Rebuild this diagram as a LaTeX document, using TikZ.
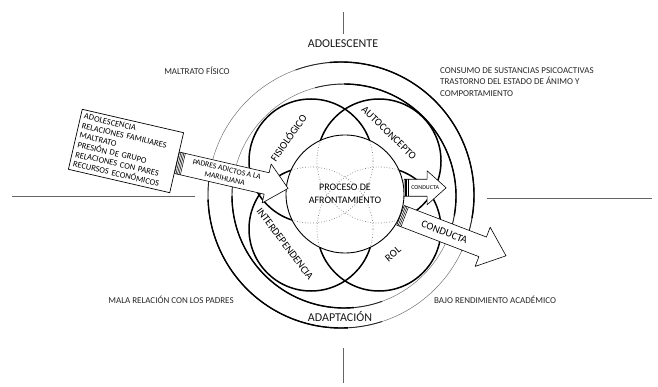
\documentclass[tikz,border=0pt]{standalone}
\usepackage{fontspec}
\setmainfont{Carlito}
\usetikzlibrary{calc}
\begin{document}
\begin{tikzpicture}[x=1pt,y=-1pt,line join=round,
  sm/.style={font=\fontsize{9}{11.5}\selectfont, text=black!85, inner sep=0pt},
  bigl/.style={font=\fontsize{12}{14}\selectfont, text=black!90, inner sep=0pt},
  plbl/.style={font=\fontsize{10.5}{12}\selectfont, inner sep=0pt},
  petal/.style={line width=1.5pt},
  dotp/.style={dotted, line width=0.7pt, black!50},
  ringthin/.style={line width=0.5pt, black!55},
  ringmid/.style={line width=0.9pt, black!85},
  ringthick/.style={line width=1.4pt},
  arrowshape/.style={draw, fill=white, line width=0.6pt},
  frameline/.style={line width=0.8pt, black!60}]
\useasboundingbox (0,0) rectangle (658,387);

% frame lines
\coordinate (t1) at (343,12); \coordinate (t2) at (343,34);
\coordinate (b1) at (343,348); \coordinate (b2) at (343,383);
\coordinate (l1) at (12,196.5); \coordinate (l2) at (195,196.5);
\coordinate (r1) at (487,198); \coordinate (r2) at (652,198);
\draw[frameline] (t1) -- (t2);
\draw[frameline] (b1) -- (b2);
\draw[frameline] (l1) -- (l2);
\draw[frameline] (r1) -- (r2);

% outer ring
\coordinate (O) at (341,195);
\draw[ringthin] (O) circle[radius=133pt];
\draw[ringmid] ($(O)+(-25:133pt)$) arc[start angle=-25, end angle=110, radius=133pt];
\draw[ringthick] ($(O)+(-10:133pt)$) arc[start angle=-10, end angle=95, radius=133pt];
\draw[ringmid] ($(O)+(168:133pt)$) arc[start angle=168, end angle=288, radius=133pt];
\draw[ringthick] ($(O)+(182:133pt)$) arc[start angle=182, end angle=273, radius=133pt];

% second ring
\coordinate (O2) at (344,196);
\draw[ringthin] (O2) circle[radius=112pt];
\draw[ringmid] ($(O2)+(-25:112pt)$) arc[start angle=-25, end angle=105, radius=112pt];
\draw[ringthick] ($(O2)+(-10:112pt)$) arc[start angle=-10, end angle=90, radius=112pt];
\draw[ringmid] ($(O2)+(165:112pt)$) arc[start angle=165, end angle=290, radius=112pt];
\draw[ringthick] ($(O2)+(180:112pt)$) arc[start angle=180, end angle=275, radius=112pt];

% petals
\coordinate (F) at (311,161);
\coordinate (A) at (379,161);
\coordinate (I) at (311,229);
\coordinate (R) at (379,229);
\foreach \c in {F,A,I,R} \draw[petal] (\c) circle[radius=62pt];

% central circle
\coordinate (M) at (345,194);
\fill[white] (M) circle[radius=59pt];
\begin{scope}
  \clip (M) circle[radius=59pt];
  \foreach \c in {F,A,I,R} \draw[dotp] (\c) circle[radius=62pt];
\end{scope}
\node[circle, draw, line width=0.9pt, minimum size=118pt, inner sep=0pt, align=center,
      font=\fontsize{10}{12.5}\selectfont] (proc) at (M) {PROCESO DE\\AFRONTAMIENTO};

% petal labels
\node[plbl, rotate=55] (fis) at (288,138) {FISIOLÓGICO};
\node[plbl, rotate=-44] (auto) at (389,133) {AUTOCONCEPTO};
\node[plbl, rotate=-53] (inter) at (285,244) {INTERDEPENDENCIA};
\node[plbl, rotate=40] (rol) at (393,254) {ROL};

% labels
\node[bigl] (adol) at (343,44) {ADOLESCENTE};
\node[bigl] (adap) at (340,317) {ADAPTACIÓN};
\node[sm] (malt) at (197,71) {MALTRATO FÍSICO};
\node[sm, anchor=west, align=left] (cons) at (440,82) {CONSUMO DE SUSTANCIAS PSICOACTIVAS\\TRASTORNO DEL ESTADO DE ÁNIMO Y\\COMPORTAMIENTO};
\node[sm] (mala) at (171,300) {MALA RELACIÓN CON LOS PADRES};
\node[sm] (bajo) at (495,300) {BAJO RENDIMIENTO ACADÉMICO};

% factor box
\node[draw, fill=white, line width=0.7pt, rotate=-13, text width=97pt, inner sep=3.5pt, align=left,
      font=\fontsize{8.5}{9.8}\selectfont] (box) at (126,151)
  {ADOLESCENCIA\\RELACIONES FAMILIARES\\MALTRATO\\PRESIÓN DE GRUPO\\RELACIONES CON PARES\\RECURSOS ECONÓMICOS};

% arrow: padres adictos
\begin{scope}[shift={(box.east)}, rotate=-13, transform shape]
  \draw[arrowshape] (0,-11) -- (92,-11) -- (92,-20) -- (114,0) -- (92,20) -- (92,11) -- (0,11) -- cycle;
  \foreach \s in {1.5,3,4.5,6} \draw[line width=0.5pt] (\s,-11) -- (\s,11);
  \node[font=\fontsize{7.8}{9.4}\selectfont, align=center, inner sep=0pt] (padres) at (50,0) {PADRES ADICTOS A LA\\MARIHUANA};
\end{scope}

% arrow: small conducta
\begin{scope}[shift={(proc.6)}, transform shape]
  \draw[arrowshape] (0,-8.5) -- (23,-8.5) -- (23,-17) -- (42,0) -- (23,17) -- (23,8.5) -- (0,8.5) -- cycle;
  \foreach \s in {1,2.5,4} \draw[line width=0.5pt] (\s,-8.5) -- (\s,8.5);
  \node[font=\fontsize{6}{7}\selectfont, inner sep=0pt] (cond1) at (21,0) {CONDUCTA};
\end{scope}

% arrow: big conducta
\begin{scope}[shift={(proc.-21)}, rotate=-21, transform shape]
  \draw[arrowshape] (0,-10.5) -- (88,-10.5) -- (88,-21) -- (113,0) -- (88,21) -- (88,10.5) -- (0,10.5) -- cycle;
  \foreach \s in {1.5,3,4.5} \draw[line width=0.5pt] (\s,-10.5) -- (\s,10.5);
  \node[font=\fontsize{10.5}{12}\selectfont, inner sep=0pt] (cond2) at (47,0) {CONDUCTA};
\end{scope}
\end{tikzpicture}
\end{document}
